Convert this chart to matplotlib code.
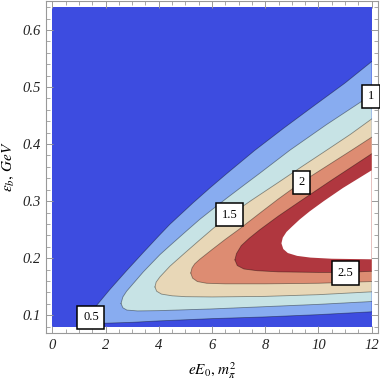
import matplotlib
matplotlib.use("Agg")
import matplotlib.pyplot as plt
from matplotlib.ticker import MultipleLocator

plt.rcParams['mathtext.fontset'] = 'stix'

# ---- data domain ----
eE0_range = [0.0, 12.0]
eps_range = [0.08, 0.64]

# ---- contour levels and region colours (outer -> inner) ----
levels = [0.5, 1.0, 1.5, 2.0, 2.5, 3.0]
base_color = '#3d4ce0'
level_colors = ['#88acf0', '#c7e3e5', '#e8d7b7', '#dd8c72', '#b0373f', '#ffffff']

# ---- contour curves (upper / lower branches, starting at the nose) ----
c05_up_x = [1.30, 1.45, 1.67, 2.17, 2.79, 3.42, 4.04, 4.41, 5.29, 5.92, 6.55, 7.61, 8.70, 9.80, 11.0, 12.0]
c05_up_y = [0.092, 0.103, 0.1175, 0.1455, 0.178, 0.210, 0.241, 0.259, 0.297, 0.323, 0.348, 0.389, 0.428, 0.466, 0.507, 0.5445]
c05_lo_x = [1.30, 1.50, 2.00, 3.00, 4.00, 6.00, 8.00, 10.0, 12.0]
c05_lo_y = [0.092, 0.0875, 0.0860, 0.0875, 0.0900, 0.0940, 0.0970, 0.1010, 0.1060]

c10_up_x = [2.58, 2.65, 2.79, 3.42, 4.04, 4.42, 5.00, 5.54, 6.00, 6.55, 7.20, 7.80, 8.92, 10.3, 11.6, 12.0]
c10_up_y = [0.1205, 0.132, 0.142, 0.176, 0.206, 0.222, 0.246, 0.268, 0.285, 0.305, 0.328, 0.349, 0.389, 0.434, 0.474, 0.486]
c10_lo_x = [2.58, 2.65, 2.80, 3.20, 4.00, 6.00, 8.00, 10.0, 12.0]
c10_lo_y = [0.1205, 0.113, 0.109, 0.1075, 0.108, 0.111, 0.115, 0.119, 0.124]

c15_up_x = [3.855, 3.90, 4.04, 4.42, 5.00, 5.54, 6.04, 6.66, 7.50, 8.50, 9.36, 10.3, 11.2, 12.0]
c15_up_y = [0.1495, 0.158, 0.167, 0.186, 0.210, 0.232, 0.252, 0.275, 0.302, 0.333, 0.360, 0.389, 0.417, 0.444]
c15_lo_x = [3.855, 3.92, 4.10, 4.50, 5.00, 6.00, 8.00, 10.0, 12.0]
c15_lo_y = [0.1495, 0.142, 0.137, 0.134, 0.1325, 0.132, 0.133, 0.136, 0.141]

c20_up_x = [5.20, 5.25, 5.35, 5.54, 6.00, 6.50, 7.00, 7.80, 8.50, 9.36, 10.3, 11.24, 12.0]
c20_up_y = [0.174, 0.183, 0.190, 0.198, 0.215, 0.233, 0.250, 0.279, 0.304, 0.333, 0.361, 0.389, 0.412]
c20_lo_x = [5.20, 5.27, 5.45, 5.80, 6.50, 8.00, 10.0, 12.0]
c20_lo_y = [0.174, 0.165, 0.159, 0.156, 0.155, 0.155, 0.156, 0.159]

c25_up_x = [6.86, 6.92, 7.10, 7.40, 7.80, 8.50, 9.35, 10.5, 12.0]
c25_up_y = [0.197, 0.208, 0.222, 0.235, 0.250, 0.274, 0.301, 0.337, 0.383]
c25_lo_x = [6.86, 6.95, 7.20, 7.70, 8.50, 10.0, 11.0, 12.0]
c25_lo_y = [0.197, 0.187, 0.181, 0.178, 0.176, 0.175, 0.175, 0.177]

c30_up_x = [8.61, 8.66, 8.80, 9.00, 9.30, 9.67, 10.2, 10.92, 12.0]
c30_up_y = [0.226, 0.236, 0.246, 0.255, 0.268, 0.282, 0.300, 0.323, 0.354]
c30_lo_x = [8.61, 8.68, 8.85, 9.20, 9.70, 10.5, 12.0]
c30_lo_y = [0.226, 0.216, 0.209, 0.204, 0.201, 0.199, 0.198]

contours = [
    (c05_up_x, c05_up_y, c05_lo_x, c05_lo_y),
    (c10_up_x, c10_up_y, c10_lo_x, c10_lo_y),
    (c15_up_x, c15_up_y, c15_lo_x, c15_lo_y),
    (c20_up_x, c20_up_y, c20_lo_x, c20_lo_y),
    (c25_up_x, c25_up_y, c25_lo_x, c25_lo_y),
    (c30_up_x, c30_up_y, c30_lo_x, c30_lo_y),
]

# ---- contour labels ----
label_texts = ['0.5', '1', '1.5', '2', '2.5']
label_x = [1.45, 11.97, 6.66, 9.355, 11.02]
label_y = [0.096, 0.4836, 0.2764, 0.3333, 0.1738]

# ---- ticks ----
x_ticks = [0, 2, 4, 6, 8, 10, 12]
y_ticks = [0.1, 0.2, 0.3, 0.4, 0.5, 0.6]

fig = plt.figure(figsize=(3.8, 3.81), dpi=100)
ax = fig.add_axes([46/380, (381-333)/381, (378-46)/380, (333-0.8)/381])

# background region (< 0.5)
ax.fill([eE0_range[0], eE0_range[1], eE0_range[1], eE0_range[0]],
        [eps_range[0], eps_range[0], eps_range[1], eps_range[1]],
        color=base_color, lw=0, zorder=1)

for (ux, uy, lx, ly), col in zip(contours, level_colors):
    px = ux[::-1] + lx[1:]
    py = uy[::-1] + ly[1:]
    ax.fill(px, py, color=col, lw=0, zorder=2)

for lev, (ux, uy, lx, ly) in zip(levels, contours):
    if lev >= 3.0:
        continue
    ax.plot(ux, uy, color='black', alpha=0.4, lw=0.6, zorder=3)
    ax.plot(lx, ly, color='black', alpha=0.4, lw=0.6, zorder=3)

for t, x, y in zip(label_texts, label_x, label_y):
    ax.text(x, y, t, ha='center', va='center', fontsize=9,
            family='Liberation Serif', zorder=5, clip_on=False,
            bbox=dict(boxstyle='square,pad=0.45', fc='white', ec='black', lw=1.1))

ax.set_xlim(-0.24, 12.24)
ax.set_ylim(0.0688, 0.6512)
ax.set_xticks(x_ticks)
ax.set_yticks(y_ticks)
ax.set_xticklabels([str(v) for v in x_ticks])
ax.set_yticklabels([f'{v:.1f}' for v in y_ticks])
ax.xaxis.set_minor_locator(MultipleLocator(0.5))
ax.yaxis.set_minor_locator(MultipleLocator(0.02))
ax.tick_params(which='both', direction='in', top=True, right=True, color='#999999')
ax.tick_params(which='major', length=5, width=0.7, pad=4)
ax.tick_params(which='minor', length=3, width=0.6)
for lab in ax.get_xticklabels() + ax.get_yticklabels():
    lab.set_family('Liberation Serif')
    lab.set_style('italic')
    lab.set_fontsize(10.5)
    lab.set_color('#222222')
for sp in ax.spines.values():
    sp.set_color('#999999')
    sp.set_linewidth(0.8)

ax.set_xlabel(r'$eE_0,\, m_\pi^2$', fontsize=11, labelpad=6)
ax.set_ylabel(r'$\varepsilon_b,\, GeV$', fontsize=11)
ax.yaxis.set_label_coords(-0.09, 0.5)

fig.savefig('out.png', dpi=100)
